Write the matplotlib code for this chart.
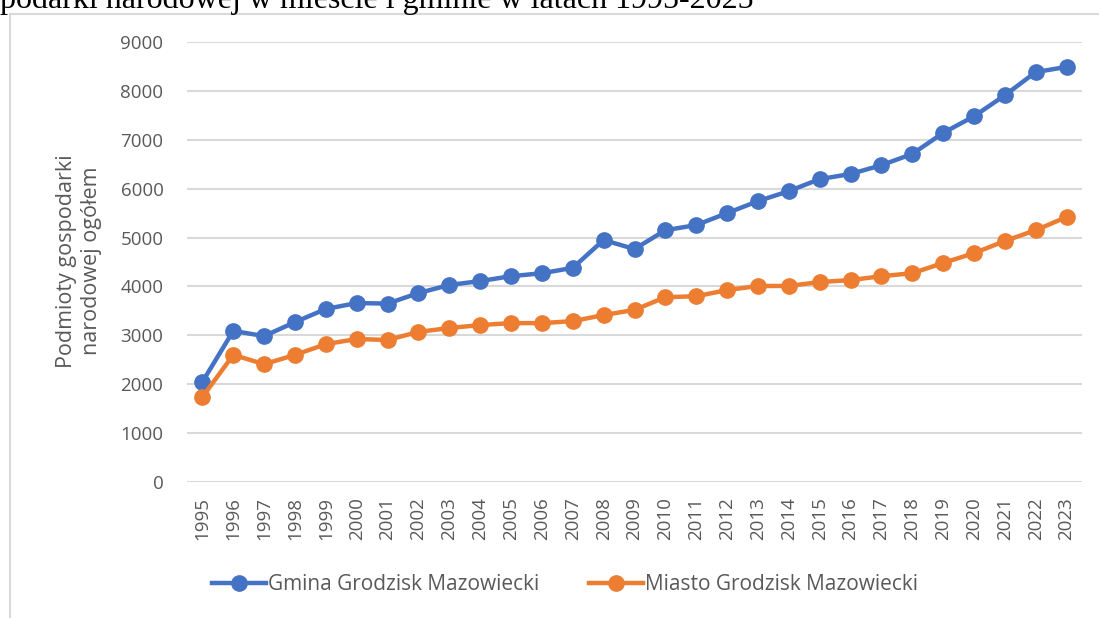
import matplotlib.pyplot as plt
from matplotlib.lines import Line2D

# data
years = list(range(1995, 2024))
gmina = [2050, 3090, 2985, 3270, 3540, 3660, 3650, 3865, 4030, 4110,
         4210, 4270, 4380, 4950, 4765, 5150, 5255, 5500, 5745, 5950,
         6195, 6300, 6480, 6710, 7140, 7480, 7910, 8385, 8490]
miasto = [1740, 2600, 2410, 2600, 2820, 2925, 2905, 3070, 3150, 3210,
          3250, 3250, 3290, 3415, 3520, 3780, 3800, 3925, 4010, 4010,
          4090, 4130, 4210, 4270, 4480, 4680, 4930, 5150, 5420]
series_names = ['Gmina Grodzisk Mazowiecki', 'Miasto Grodzisk Mazowiecki']
colors = ['#4472C4', '#ED7D31']

plt.rcParams['font.family'] = ['Open Sans', 'DejaVu Sans']

fig = plt.figure(figsize=(10.99, 6.18), dpi=100)
ax = fig.add_axes([187 / 1099, 1 - 482 / 618, (1082 - 187) / 1099, 440 / 618])

x = range(len(years))
for vals, c in zip([gmina, miasto], colors):
    ax.plot(x, vals, color=c, linewidth=3.2, marker='o', markersize=11,
            solid_joinstyle='round')

ax.set_xlim(-0.5, len(years) - 0.5)
ax.set_ylim(0, 9000)
ax.set_yticks(range(0, 9001, 1000))
ax.set_xticks(list(x))
ax.set_xticklabels([str(y) for y in years], rotation=90)
ax.tick_params(axis='both', length=0, labelsize=13.5, labelcolor='#595959')
ax.tick_params(axis='y', pad=17)
ax.tick_params(axis='x', pad=11)
ax.grid(axis='y', color='#d9d9d9', linewidth=1.5)
ax.set_axisbelow(True)
for s in ax.spines.values():
    s.set_visible(False)

# y axis title
fig.text(79 / 1099, 1 - 261 / 618, 'Podmioty gospodarki\nnarodowej ogółem',
         rotation=90, ha='center', va='center', fontsize=15.5, color='#595959',
         linespacing=1.2)

# legend
handles = [Line2D([], [], color=c, linewidth=3.2, marker='o', markersize=11)
           for c in colors]
fig.legend(handles, series_names, loc='center', bbox_to_anchor=(565 / 1099, 1 - 585 / 618),
           ncol=2, frameon=False, fontsize=15, handlelength=2.6,
           handletextpad=0.1, columnspacing=2.4, labelcolor='#595959')

# chart border (cut off on the right/bottom)
fig.add_artist(Line2D([10 / 1099, 10 / 1099], [0, 1 - 14 / 618],
                      transform=fig.transFigure, color='#d9d9d9', linewidth=1.5))
fig.add_artist(Line2D([10 / 1099, 1], [1 - 14 / 618, 1 - 14 / 618],
                      transform=fig.transFigure, color='#d9d9d9', linewidth=1.5))

# title, cut off at the top of the picture
fig.text(0, 1 - 8 / 618, 'podarki narodowej w mieście i gminie w latach 1995-2025',
         ha='left', va='baseline', fontsize=23, family='Liberation Serif',
         color='black')

fig.savefig('out.png', dpi=100)
